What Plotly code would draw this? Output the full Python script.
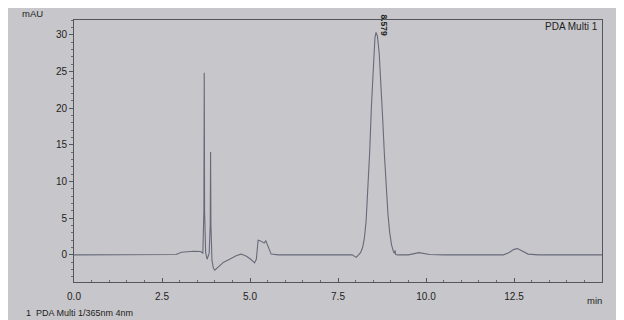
import plotly.graph_objects as go

# Retention time (min) and detector signal (mAU)
time_min = [0.0, 1.0, 2.0, 2.9, 3.05, 3.2, 3.4, 3.6, 3.66, 3.69, 3.70, 3.71, 3.74,
            3.78, 3.84, 3.87, 3.88, 3.89, 3.92, 3.96, 4.00, 4.05, 4.15, 4.25, 4.38,
            4.5, 4.62, 4.75, 4.9, 5.02, 5.13, 5.18, 5.23, 5.3, 5.4, 5.45, 5.5, 5.6,
            5.8, 6.5, 7.2, 7.9, 8.02, 8.08, 8.14, 8.2, 8.25, 8.3, 8.35, 8.4, 8.45,
            8.5, 8.55, 8.58, 8.62, 8.67, 8.72, 8.77, 8.82, 8.87, 8.92, 8.97, 9.02,
            9.07, 9.10, 9.12, 9.14, 9.2, 9.5, 9.8, 10.1, 10.5, 11.5, 12.2, 12.35,
            12.5, 12.6, 12.75, 12.9, 13.2, 14.0, 15.0]
signal_mau = [0.0, 0.0, 0.0, 0.05, 0.35, 0.45, 0.5, 0.45, 0.2, 6.0, 24.8, 6.0, 0.3,
              -0.6, 0.2, 4.0, 14.0, 4.0, -0.8, -1.8, -2.1, -1.9, -1.4, -1.0, -0.7,
              -0.4, -0.1, 0.1, -0.2, -0.6, -1.1, -0.6, 2.0, 1.9, 1.6, 1.9, 1.2, 0.1,
              0.0, 0.0, 0.0, 0.0, -0.35, 0.0, 0.3, 1.0, 2.3, 4.7, 8.6, 14.0, 20.3,
              26.0, 29.6, 30.3, 29.8, 27.5, 23.5, 18.5, 13.5, 9.0, 5.5, 3.0, 1.4,
              0.5, 0.2, 0.6, 0.05, 0.0, 0.0, 0.3, 0.05, 0.0, 0.0, 0.0, 0.3,
              0.75, 0.85, 0.5, 0.1, 0.0, 0.0, 0.0]

y_tick_vals = [0, 5, 10, 15, 20, 25, 30]
x_tick_vals = [0.0, 2.5, 5.0, 7.5, 10.0, 12.5]
x_tick_text = ["0.0", "2.5", "5.0", "7.5", "10.0", "12.5"]

peak_time = 8.579
peak_height = 30.3
peak_label = "8.579"

bg = "#c7c6ca"
ink = "#1e1e22"
line_col = "#686a7a"
axis_col = "#55565c"
font_family = "Liberation Sans, Arial, sans-serif"

fig = go.Figure()
fig.add_trace(go.Scatter(x=time_min, y=signal_mau, mode="lines",
                         line=dict(color=line_col, width=1.1),
                         hoverinfo="skip", showlegend=False))

fig.add_annotation(x=peak_time, y=peak_height, text="<b>" + peak_label + "</b>",
                   textangle=90, showarrow=False, xanchor="left", yanchor="bottom",
                   xshift=1, yshift=-6,
                   font=dict(family=font_family, size=8.5, color=ink))

fig.add_annotation(x=0.996, y=0.977, xref="paper", yref="paper", text="PDA Multi 1",
                   showarrow=False, xanchor="right", yanchor="middle",
                   font=dict(family=font_family, size=10, color=ink))
fig.add_annotation(x=-0.102, y=1.023, xref="paper", yref="paper", text="mAU",
                   showarrow=False, xanchor="left", yanchor="middle",
                   font=dict(family=font_family, size=9.5, color=ink))
fig.add_annotation(x=1.004, y=-0.07, xref="paper", yref="paper", text="min",
                   showarrow=False, xanchor="right", yanchor="middle",
                   font=dict(family=font_family, size=9.5, color=ink))
fig.add_annotation(x=-0.095, y=-0.118, xref="paper", yref="paper",
                   text="1  PDA Multi 1/365nm 4nm",
                   showarrow=False, xanchor="left", yanchor="middle",
                   font=dict(family=font_family, size=9, color=ink))

fig.update_layout(
    width=616, height=312,
    margin=dict(l=66, r=22, t=12, b=38),
    paper_bgcolor=bg, plot_bgcolor=bg,
    font=dict(family=font_family, size=10, color=ink),
    xaxis=dict(range=[0, 15], tickvals=x_tick_vals, ticktext=x_tick_text,
               showgrid=False, zeroline=False, showline=True, linecolor=axis_col,
               linewidth=1, mirror=True, ticks="inside", ticklen=4,
               tickcolor=axis_col, ticklabelstandoff=5,
               minor=dict(dtick=0.5, ticks="inside", ticklen=2, tickcolor="#6a6b70"),
               tickfont=dict(size=10, color=ink)),
    yaxis=dict(range=[-3.7, 32], tickvals=y_tick_vals,
               showgrid=False, zeroline=False, showline=True, linecolor=axis_col,
               linewidth=1, mirror=True, ticks="outside", ticklen=4,
               tickcolor=axis_col,
               minor=dict(dtick=1, ticks="outside", ticklen=2, tickcolor="#6a6b70"),
               tickfont=dict(size=10, color=ink)),
)

fig.write_html("out.html")
